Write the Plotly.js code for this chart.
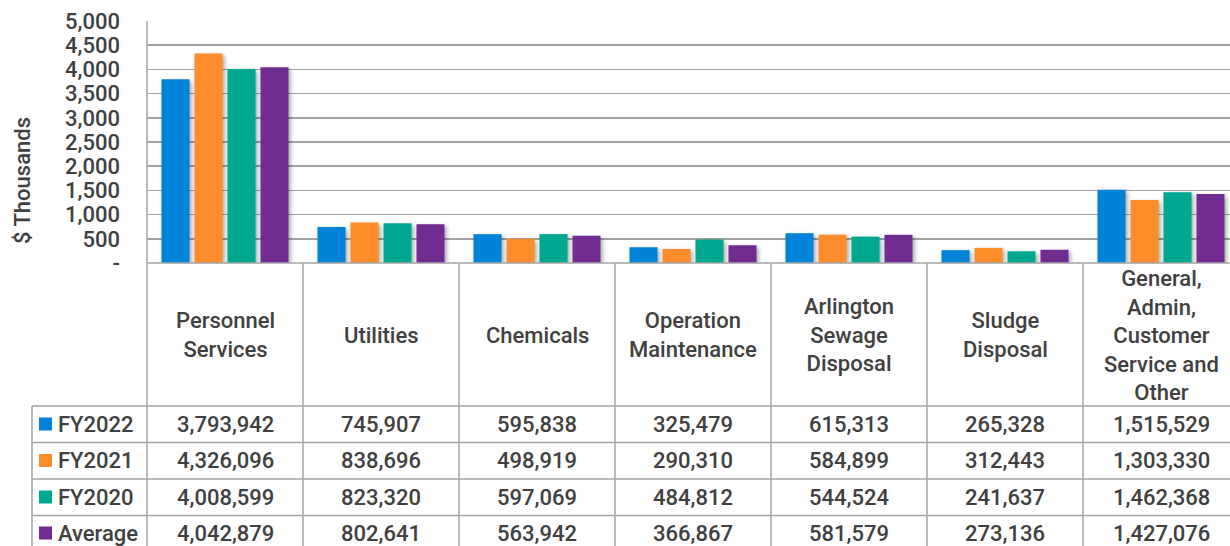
<!DOCTYPE html>
<html><head><meta charset="utf-8">
<script src="https://cdn.plot.ly/plotly-3.0.1.min.js"></script>
<style>html,body{margin:0;padding:0;background:#fff;overflow:hidden}#chart{width:1239px;height:546px}
.trace.bars path{filter:drop-shadow(2px 2px 2px rgba(0,0,0,0.35))}</style>
</head><body><div id="chart"></div>
<script>
const categories = ["Personnel Services","Utilities","Chemicals","Operation Maintenance","Arlington Sewage Disposal","Sludge Disposal","General, Admin, Customer Service and Other"];
const categoryLabels = ["Personnel<br>Services","Utilities","Chemicals","Operation<br>Maintenance","Arlington<br>Sewage<br>Disposal","Sludge<br>Disposal","General,<br>Admin,<br>Customer<br>Service and<br>Other"];
const seriesNames = ["FY2022","FY2021","FY2020","Average"];
const fy2022 = [3793942,745907,595838,325479,615313,265328,1515529];
const fy2021 = [4326096,838696,498919,290310,584899,312443,1303330];
const fy2020 = [4008599,823320,597069,484812,544524,241637,1462368];
const average = [4042879,802641,563942,366867,581579,273136,1427076];
const yTickVals = [0,500,1000,1500,2000,2500,3000,3500,4000,4500,5000];
const yTickText = ["-","500","1,000","1,500","2,000","2,500","3,000","3,500","4,000","4,500","5,000"];
const yTitle = "$ Thousands";

const seriesValues = [fy2022, fy2021, fy2020, average];
const colors = ["#0083D8","#FF8C2B","#00A88F","#702C91"];
const textColor = "#404040";
const lineColor = "#A3A3A3";
const FONT = "Roboto, 'Liberation Sans', Arial, sans-serif";

const W = 1239, H = 546;
const plotLeft = 147, plotRight = 1239, plotTop = 21, plotBottom = 263;
const plotW = plotRight - plotLeft, plotH = plotBottom - plotTop;
const px = x => (x - plotLeft) / plotW;
const py = y => (plotBottom - y) / plotH;

const rowLines = [406, 442.5, 479, 515.5];
const rowCenters = [424, 460.5, 497, 533];
const tableBottom = 560;

const traces = seriesValues.map((vals, s) => ({
  type: "bar",
  name: seriesNames[s],
  x: categories,
  y: vals.map(v => v / 1000),
  marker: {color: colors[s], line: {width: 0}},
  showlegend: false,
  hoverinfo: "skip"
}));

const shapes = [];
const line = (x0, y0, x1, y1) => ({type: "line", xref: "paper", yref: "paper", x0, y0, x1, y1,
  line: {color: lineColor, width: 1.5}, layer: "above"});
for (let k = 0; k <= categories.length; k++) {
  shapes.push(line(k / categories.length, k === 0 ? 1 : 0, k / categories.length, py(tableBottom)));
}
shapes.push(line(px(32), py(rowLines[0]), px(32), py(tableBottom)));
rowLines.forEach(r => shapes.push(line(px(32), py(r), 1, py(r))));
shapes.push(line(0, 0, 1, 0));
seriesNames.forEach((n, s) => {
  shapes.push({type: "rect", xref: "paper", yref: "paper",
    x0: px(39), x1: px(52), y0: py(rowCenters[s] - 6.5), y1: py(rowCenters[s] + 6.5),
    fillcolor: colors[s], line: {width: 0}, layer: "above"});
});

const annotations = [];
const fmt = v => v.toLocaleString("en-US");
categories.forEach((c, i) => {
  annotations.push({xref: "x", yref: "paper", x: c, y: py(335), text: categoryLabels[i],
    showarrow: false, xanchor: "center", yanchor: "middle",
    font: {family: FONT, size: 22, color: textColor, weight: 500}});
});
seriesNames.forEach((n, s) => {
  annotations.push({xref: "paper", yref: "paper", x: px(56), y: py(rowCenters[s]), text: n,
    showarrow: false, xanchor: "left", yanchor: "middle",
    font: {family: FONT, size: 22, color: textColor, weight: 500}});
  seriesValues[s].forEach((v, i) => {
    annotations.push({xref: "x", yref: "paper", x: categories[i], y: py(rowCenters[s]), text: fmt(v),
      showarrow: false, xanchor: "center", yanchor: "middle",
      font: {family: FONT, size: 22, color: textColor, weight: 500}});
  });
});
annotations.push({xref: "paper", yref: "paper", x: px(22), y: py(181), text: yTitle, textangle: -90,
  showarrow: false, xanchor: "center", yanchor: "middle",
  font: {family: FONT, size: 22, color: textColor, weight: 500}});

const layout = {
  width: W, height: H,
  margin: {l: plotLeft, r: W - plotRight, t: plotTop, b: H - plotBottom, pad: 0},
  paper_bgcolor: "#fff", plot_bgcolor: "#fff",
  barmode: "group", bargap: 0.154, bargroupgap: 0.15,
  font: {family: FONT, color: textColor},
  xaxis: {type: "category", range: [-0.5, categories.length - 0.5], showticklabels: false,
    showgrid: false, zeroline: false, showline: false, ticks: "", fixedrange: true},
  yaxis: {range: [0, 5000], tickvals: yTickVals, ticktext: yTickText, showgrid: true,
    gridcolor: lineColor, gridwidth: 1.5, zeroline: false, showline: false, ticks: "",
    ticklabelstandoff: 26, tickfont: {family: FONT, size: 22, color: textColor, weight: 500},
    fixedrange: true},
  shapes, annotations,
  showlegend: false
};

Plotly.newPlot("chart", traces, layout, {displayModeBar: false, staticPlot: true});
</script>
</body></html>
